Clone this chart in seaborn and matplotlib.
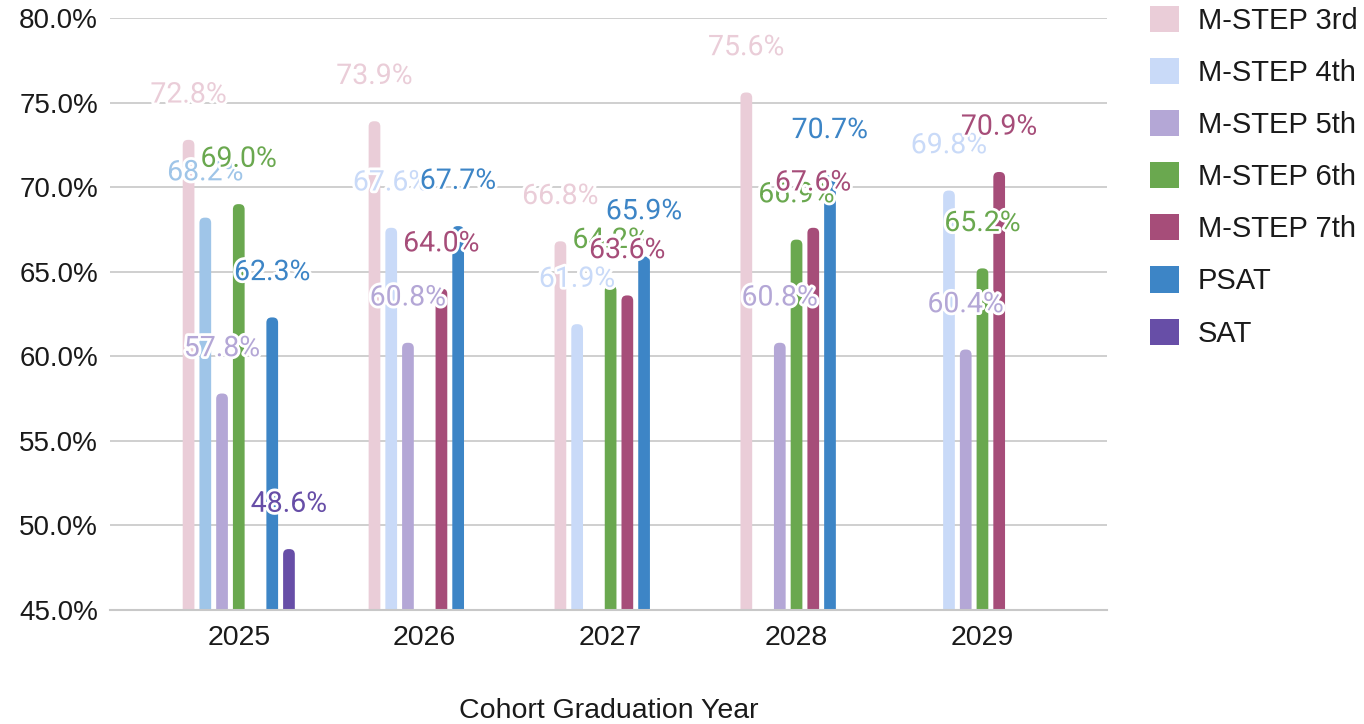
import numpy as np
import pandas as pd
import matplotlib
matplotlib.use("Agg")
import matplotlib.pyplot as plt
import matplotlib.patheffects as pe
from matplotlib.patches import FancyBboxPatch, Patch
import seaborn as sns

years = ["2025", "2026", "2027", "2028", "2029"]
series = ["M-STEP 3rd", "M-STEP 4th", "M-STEP 5th", "M-STEP 6th", "M-STEP 7th", "PSAT", "SAT"]
nan = np.nan
mstep3 = [72.8, 73.9, 66.8, 75.6, nan]
mstep4 = [68.2, 67.6, 61.9, nan, 69.8]
mstep5 = [57.8, 60.8, nan, 60.8, 60.4]
mstep6 = [69.0, nan, 64.2, 66.9, 65.2]
mstep7 = [nan, 64.0, 63.6, 67.6, 70.9]
psat = [62.3, 67.7, 65.9, 70.7, nan]
sat = [48.6, nan, nan, nan, nan]
yticks = [45, 50, 55, 60, 65, 70, 75, 80]

colors = ["#EACDD8", "#C9DAF8", "#B4A7D6", "#6AA84F", "#A64D79", "#3D85C6", "#674EA7"]
special_color = "#9FC5E8"  # 2025 M-STEP 4th point colour

values = [mstep3, mstep4, mstep5, mstep6, mstep7, psat, sat]
rows = []
for s, vals in zip(series, values):
    for y, v in zip(years, vals):
        rows.append({"year": y, "series": s, "value": v})
df = pd.DataFrame(rows)
df_plot = df.dropna()

sns.set_theme(style="white")
plt.rcParams["font.family"] = ["Liberation Sans", "DejaVu Sans"]

FS = 20.5

fig = plt.figure(figsize=(13.64, 7.24), dpi=100)
ax = fig.add_axes([0.081, 0.1575, 0.7306, 0.8175])

sns.barplot(data=df_plot, x="year", y="value", hue="series", order=years,
            hue_order=series, palette=colors, width=0.63, gap=0.3,
            dodge=True, ax=ax, legend=False, saturation=1, errorbar=None)

ax.set_xlim(-0.69, 4.67)
ax.set_ylim(45, 80)

fig.canvas.draw()
bb = ax.get_window_extent()
xpp = (4.67 + 0.69) / bb.width
ypp = 35 / bb.height
aspect = ypp / xpp

patches = list(ax.patches)
for p in patches:
    h = p.get_height()
    if not np.isfinite(h) or h == 0:
        p.remove()
        continue
    x0 = p.get_x()
    w = p.get_width()
    xc = x0 + w / 2
    col = p.get_facecolor()
    cat = int(round(xc))
    offs = xc - cat
    sidx = int(round((offs + 0.63 / 2 - 0.045) / 0.09))
    if years[cat] == "2025" and series[sidx] == "M-STEP 4th":
        col = special_color
    p.remove()
    r = w * 0.45
    fb = FancyBboxPatch((x0, 0), w, h,
                        boxstyle=f"round,pad=0,rounding_size={r}",
                        mutation_aspect=aspect, facecolor=col,
                        edgecolor="none", zorder=2, clip_on=True)
    ax.add_patch(fb)
    ax.text(xc, h + 2.65, f"{h:.1f}%", ha="center", va="center",
            fontsize=FS, color=col, family=["Roboto", "DejaVu Sans"],
            zorder=4,
            path_effects=[pe.withStroke(linewidth=4, foreground="white")])

ax.set_yticks(yticks)
ax.set_yticklabels([f"{t:.1f}%" for t in yticks], fontsize=20, color="#1a1a1a")
ax.tick_params(axis="x", labelsize=FS, labelcolor="#1a1a1a", pad=11, length=0)
ax.tick_params(axis="y", pad=9, length=0)
ax.grid(axis="y", color="#CCCCCC", linewidth=1.3, zorder=0)
ax.set_axisbelow(True)
for s in ["left", "right", "top"]:
    ax.spines[s].set_visible(False)
ax.spines["bottom"].set_color("#C8C8C8")
ax.spines["bottom"].set_linewidth(1.5)
ax.set_ylabel("")
ax.set_xlabel("Cohort Graduation Year", fontsize=FS, color="#1a1a1a", labelpad=34)

handles = [Patch(facecolor=c, edgecolor="none") for c in colors]
leg = fig.legend(handles, series, loc="upper left",
                 bbox_to_anchor=(1150 / 1364, 1 - 6 / 724),
                 frameon=False, fontsize=21, handlelength=1.0, handleheight=1.0,
                 labelspacing=0.79, handletextpad=0.65, borderpad=0,
                 borderaxespad=0)
for t in leg.get_texts():
    t.set_color("#1a1a1a")

fig.savefig("out.png", dpi=100)
